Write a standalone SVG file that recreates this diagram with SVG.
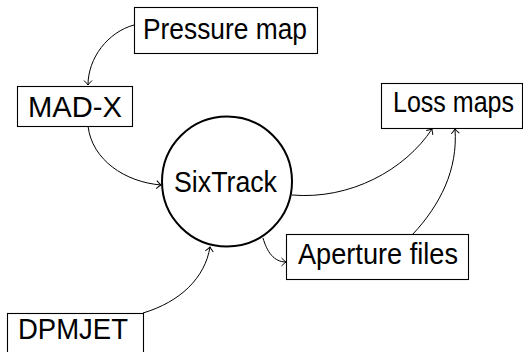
<svg xmlns="http://www.w3.org/2000/svg" width="523" height="352" viewBox="0 0 523 352">
<defs>
<style>
.box{fill:#fff;stroke:#000;stroke-width:1.1}
.lbl{font-family:"Liberation Sans","DejaVu Sans",sans-serif;font-size:29px;fill:#000}
.edge{fill:none;stroke:#000;stroke-width:1}
</style>
<marker id="ah" markerUnits="userSpaceOnUse" markerWidth="12" markerHeight="12" refX="0" refY="0" viewBox="-6 -6 12 12" orient="auto" overflow="visible">
<path d="M-4.5,-4 Q-1.5,-1 0,0 Q-1.5,1 -4.5,4" fill="none" stroke="#000" stroke-width="1"/>
</marker>
</defs>
<rect width="523" height="352" fill="#fff"/>
<g id="connectors">
<path class="edge" d="M134,25 C108,32 88,58 88,85" marker-end="url(#ah)"/>
<path class="edge" d="M88,126 C92,160 125,182 161,185" marker-end="url(#ah)"/>
<path class="edge" d="M292,195 C350,200 405,170 432,129" marker-end="url(#ah)"/>
<path class="edge" d="M413,234 C440,205 458,170 455,129" marker-end="url(#ah)"/>
<path class="edge" d="M263,238 C267,252 274,262 286,262" marker-end="url(#ah)"/>
<path class="edge" d="M143,313 C180,302 205,278 210,247" marker-end="url(#ah)"/>
</g>
<g id="pressure-map">
<rect class="box" x="134.5" y="7.5" width="183" height="46"/>
<text class="lbl" x="143" y="39" textLength="164" lengthAdjust="spacingAndGlyphs">Pressure map</text>
</g>
<g id="mad-x">
<rect class="box" x="17.5" y="86.5" width="115" height="40"/>
<text class="lbl" x="28" y="117" textLength="94" lengthAdjust="spacingAndGlyphs">MAD-X</text>
</g>
<g id="sixtrack">
<circle cx="227" cy="181.5" r="65" fill="#fff" stroke="#000" stroke-width="2"/>
<text class="lbl" x="174" y="192" textLength="103" lengthAdjust="spacingAndGlyphs">SixTrack</text>
</g>
<g id="loss-maps">
<rect class="box" x="381.5" y="83.5" width="141" height="45"/>
<text class="lbl" x="393" y="112" textLength="121" lengthAdjust="spacingAndGlyphs">Loss maps</text>
</g>
<g id="aperture-files">
<rect class="box" x="286.5" y="234.5" width="182" height="45"/>
<text class="lbl" x="298" y="264" textLength="160" lengthAdjust="spacingAndGlyphs">Aperture files</text>
</g>
<g id="dpmjet">
<rect class="box" x="7.5" y="313.5" width="136" height="45"/>
<text class="lbl" x="18" y="339" textLength="110" lengthAdjust="spacingAndGlyphs">DPMJET</text>
</g>
</svg>
